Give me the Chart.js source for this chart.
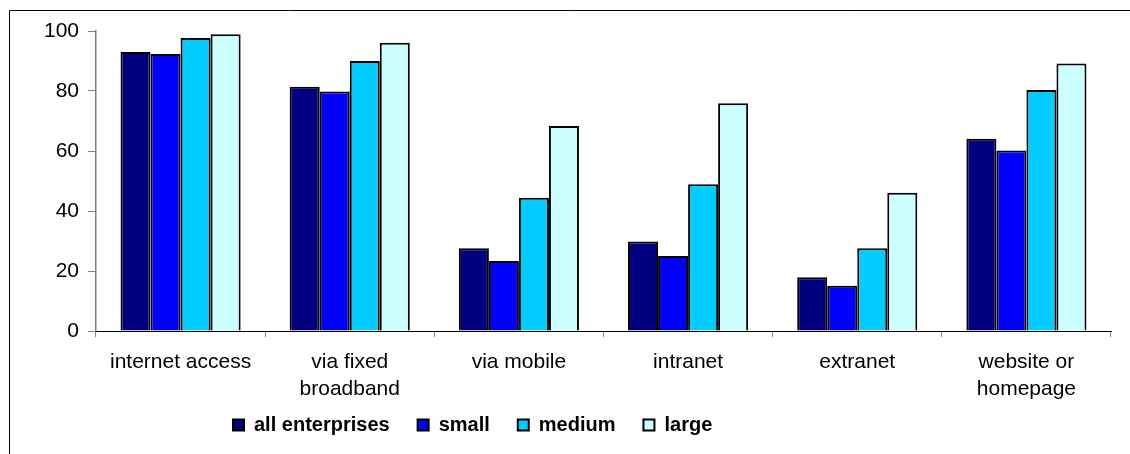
<!DOCTYPE html>
<html>
<head>
<meta charset="utf-8">
<script src="https://cdn.jsdelivr.net/npm/chart.js@4/dist/chart.umd.min.js"></script>
<style>
    html, body { margin: 0; padding: 0; background: #fff; }
    #wrap { position: relative; width: 1130px; height: 454px; }
</style>
</head>
<body>
<div id="wrap"><canvas id="chart"></canvas></div>
<script>
// Data (percent of enterprises)
const categories = ['internet access', ['via fixed', 'broadband'], 'via mobile', 'intranet', 'extranet', ['website or', 'homepage']];
const seriesNames = ['all enterprises', 'small', 'medium', 'large'];
const allEnterprises = [93, 81.4, 27.6, 29.8, 17.9, 64.1];
const small = [92.3, 79.8, 23.3, 25, 15.1, 60.2];
const medium = [97.7, 90, 44.4, 48.9, 27.6, 80.3];
const large = [98.9, 96.1, 68.3, 75.9, 46.1, 89.2];
const yTicks = [0, 20, 40, 60, 80, 100];

const colors = ['#000080', '#0000ff', '#00ccff', '#ccffff'];
const fontFamily = '"Liberation Sans", Arial, sans-serif';

// outer frame (only left and top edges visible in the original)
const framePlugin = {
    id: 'frame',
    beforeDraw(chart) {
        const ctx = chart.ctx;
        ctx.save();
        ctx.strokeStyle = '#000';
        ctx.lineWidth = 1;
        ctx.beginPath();
        ctx.moveTo(9.5, chart.height);
        ctx.lineTo(9.5, 10.5);
        ctx.lineTo(chart.width, 10.5);
        ctx.stroke();
        ctx.restore();
    }
};

// move the legend to where it sits in the original
const legendPlace = {
    id: 'legendPlace',
    afterLayout(chart) {
        const lg = chart.legend;
        lg.left = 205;
        lg.right = 1111;
        lg.top = 387;
        lg.bottom = chart.height;
    }
};

const datasets = [allEnterprises, small, medium, large].map((values, i) => ({
    label: seriesNames[i],
    data: values,
    backgroundColor: colors[i],
    borderColor: '#000',
    borderWidth: 2,
    categoryPercentage: 0.71,
    barPercentage: 1.0
}));

new Chart(document.getElementById('chart'), {
    type: 'bar',
    data: { labels: categories, datasets: datasets },
    options: {
        responsive: true,
        maintainAspectRatio: false,
        animation: false,
        layout: { padding: { top: 31, right: 19, left: 0, bottom: 0 } },
        plugins: {
            tooltip: { enabled: false },
            legend: {
                position: 'bottom',
                align: 'start',
                maxHeight: 40,
                labels: {
                    boxWidth: 11,
                    boxHeight: 11,
                    padding: 28,
                    color: '#000',
                    font: { family: fontFamily, size: 20, weight: 'bold' }
                }
            }
        },
        scales: {
            x: {
                afterFit: s => { s.height = 83; },
                grid: { drawOnChartArea: false, tickLength: 6, color: '#808080' },
                border: { color: '#000', width: 1 },
                ticks: {
                    color: '#000',
                    padding: 12,
                    maxRotation: 0,
                    autoSkip: false,
                    font: { family: fontFamily, size: 21, lineHeight: 1.29 }
                }
            },
            y: {
                min: 0,
                max: 100,
                afterFit: s => { s.width = 96; },
                afterBuildTicks: s => { s.ticks = yTicks.map(v => ({ value: v })); },
                grid: { drawOnChartArea: false, tickLength: 8, color: '#808080' },
                border: { color: '#808080', width: 1.5 },
                ticks: {
                    color: '#000',
                    padding: 9,
                    font: { family: fontFamily, size: 21 }
                }
            }
        }
    },
    plugins: [framePlugin, legendPlace]
});
</script>
</body>
</html>
